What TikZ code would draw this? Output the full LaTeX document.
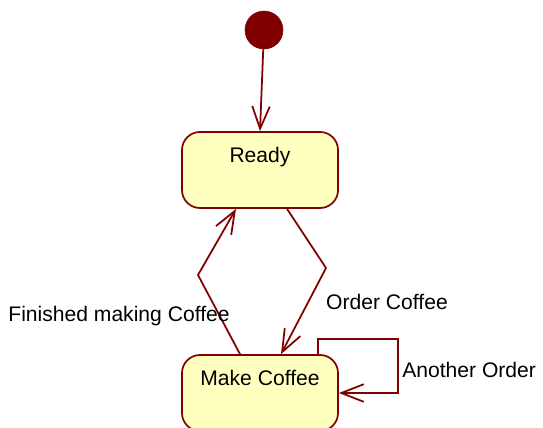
\documentclass[tikz,border=0pt]{standalone}
\usepackage{fontspec}
\setmainfont{Liberation Sans}
\usetikzlibrary{arrows.meta,calc,positioning}
\definecolor{umlred}{HTML}{800000}
\definecolor{umlfill}{HTML}{FFFFC0}
\tikzset{state node/.style={rectangle,rounded corners=0.45cm,draw=umlred,fill=umlfill,line width=1.2pt,
                            minimum width=3.9cm,inner ysep=0.3cm,text height=0.46cm,text depth=0.84cm},
         init node/.style={circle,fill=umlred,draw=umlred,minimum size=0.95cm,inner sep=0pt},
         edge label/.style={rectangle,draw=none,fill=none,inner sep=0pt},
         trans/.style={draw=umlred,line width=1.25pt,-{Straight Barb[length=16pt,width=12.5pt,line width=1.25pt]}}
}

\begin{document}
\begin{tikzpicture}[x=0.025cm,y=-0.025cm,
font=\fontsize{15}{18}\selectfont]
\useasboundingbox (0,0) rectangle (543,427);
\clip (0,0) rectangle (543,427);

\node[init node] (start) at (264,30) {};
\node[state node] (ready) at (260,170) {Ready};
\node[state node] (make) at (260,393) {Make Coffee};

% bend points
\coordinate (orderbend) at (326,268);
\coordinate (donebend) at (198,275);
\coordinate (loopcorner) at (398,339);

\draw[trans] (start) -- (ready.north);
\draw[trans] ($(ready.south)+(27,0)$) -- (orderbend) -- ($(make.north)+(21,0)$);
\draw[trans] ($(make.north)+(-20,0)$) -- (donebend) -- ($(ready.south)+(-24,0)$);
\draw[trans] ($(make.north)+(58,0)$) |- (loopcorner) |- (make.east);

\node[edge label] at (387,302) {Order Coffee};
\node[edge label] at (119,316) {Finished making Coffee};
\node[edge label,anchor=west] at (402,370) {Another Order};
\end{tikzpicture}
\end{document}
